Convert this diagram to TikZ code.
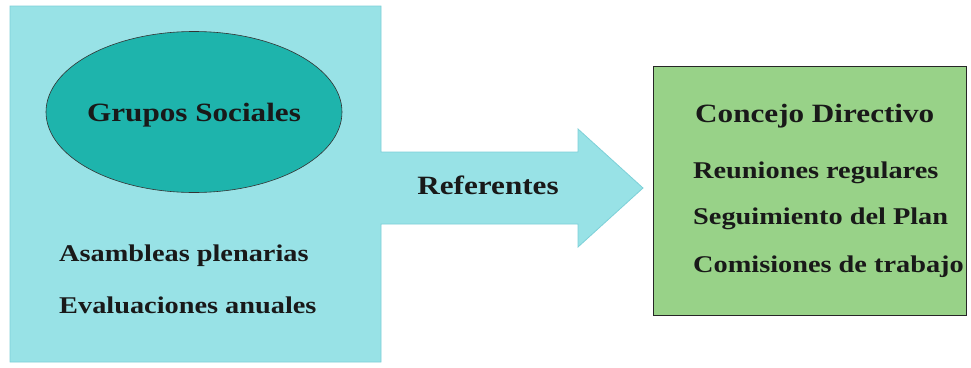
\documentclass[tikz,border=0pt]{standalone}
\usepackage{fontspec}
\setmainfont{Liberation Serif}[FakeStretch=1.18]
\usetikzlibrary{shapes.geometric}
\definecolor{lcyan}{RGB}{152,226,230}
\definecolor{lcyanb}{RGB}{125,208,216}
\definecolor{teal2}{RGB}{30,180,172}
\definecolor{lgreen}{RGB}{152,210,136}
\tikzset{
  lbl/.style={font=\bfseries\fontsize{24}{26}\selectfont, inner sep=0pt, text=black!90},
  lblbig/.style={font=\bfseries\fontsize{26.4}{28}\selectfont, inner sep=0pt, text=black!90},
}
\begin{document}
\begin{tikzpicture}[x=1pt,y=-1pt]
\useasboundingbox[fill=white] (0,0) rectangle (971,367);
% left panel with arrow
\draw[fill=lcyan, draw=lcyanb, line width=0.8pt]
  (10,6) -- (381,6) -- (381,152) -- (578,152) -- (578,129) -- (643,188)
  -- (578,247) -- (578,224) -- (381,224) -- (381,362) -- (10,362) -- cycle;
\node[ellipse, draw=black!80, fill=teal2, line width=0.6pt,
      minimum width=296pt, minimum height=161pt, inner sep=0pt] (gs) at (194,112) {};
\node[lblbig, anchor=base] (gst) at (194,121) {Grupos Sociales};
\node[lbl, anchor=base west] (ap) at (59,261) {Asambleas plenarias};
\node[lbl, anchor=base west] (ea) at (59,313) {Evaluaciones anuales};
\node[lblbig, anchor=base] (ref) at (488,194) {Referentes};
% right box
\node[draw=black!85, fill=lgreen, line width=0.8pt, minimum width=313pt, minimum height=249pt,
      anchor=north west, inner sep=0pt] (cd) at (653,66) {};
\node[lblbig, anchor=base west] (t1) at (695,122) {Concejo Directivo};
\node[lbl, anchor=base west] (t2) at (693,178) {Reuniones regulares};
\node[lbl, anchor=base west] (t3) at (693,224) {Seguimiento del Plan};
\node[lbl, anchor=base west] (t4) at (693,272) {Comisiones de trabajo};
\end{tikzpicture}
\end{document}
